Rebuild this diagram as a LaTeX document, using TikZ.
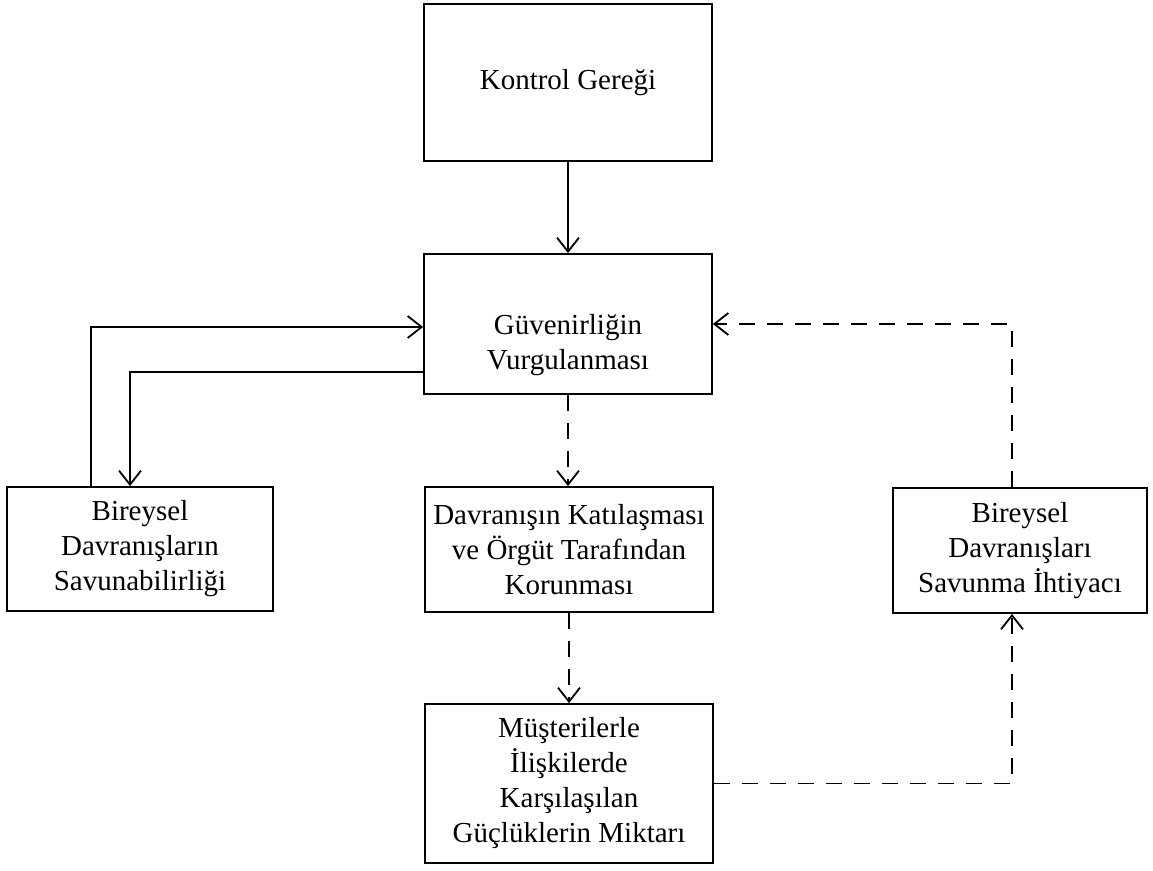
\documentclass[tikz,border=0pt]{standalone}
\usepackage{fontspec}
\setmainfont{Liberation Serif}
\usetikzlibrary{arrows.meta}
\begin{document}
\begin{tikzpicture}[x=0.5pt,y=-0.5pt,
  txt/.style={align=center, font=\fontsize{14.5pt}{17.5pt}\selectfont},
  box/.style={txt, draw, line width=0.9pt, inner sep=0pt},
  link/.style={line width=0.9pt, -{Straight Barb[length=7pt,width=11pt]}},
  dlink/.style={link, dash pattern=on 8pt off 6pt}]
\useasboundingbox (0,0) rectangle (1153,871);

% boxes
\node[box, minimum width=144pt, minimum height=78.5pt] (kg) at (568,82.5) {Kontrol Gereği};
\node[box, minimum width=144pt, minimum height=70pt] (gv) at (568,324) {};
\node[txt] (gvtext) at (568,345) {Güvenirliğin\\Vurgulanması};
\node[box, minimum width=133pt, minimum height=62pt] (bs) at (140,549)
  {Bireysel\\Davranışların\\Savunabilirliği};
\node[box, minimum width=144pt, minimum height=62.5pt] (dk) at (569,549.5)
  {Davranışın Katılaşması\\ve Örgüt Tarafından\\Korunması};
\node[box, minimum width=127pt, minimum height=62.5pt] (bi) at (1020,550.5)
  {Bireysel\\Davranışları\\Savunma İhtiyacı};
\node[box, minimum width=144pt, minimum height=79.5pt] (mu) at (569,783.5)
  {Müşterilerle\\İlişkilerde\\Karşılaşılan\\Güçlüklerin Miktarı};

% solid connectors
\draw[link] (kg) -- (gv);
\draw[link] ([xshift=-24.5pt]bs.north) |- ([yshift=-1.5pt]gv.west);
\draw[link] ([yshift=-24pt]gv.west) -| ([xshift=-5pt]bs.north);

% dashed connectors
\draw[dlink] (gv.south) -- (gv.south |- dk.north);
\draw[dlink] (dk.south) -- (dk.south |- mu.north);
\draw[dlink] (mu.east) -| ([xshift=-4pt]bi.south);
\draw[dlink] ([xshift=-4pt]bi.north) |- (gv.east);
\end{tikzpicture}
\end{document}
